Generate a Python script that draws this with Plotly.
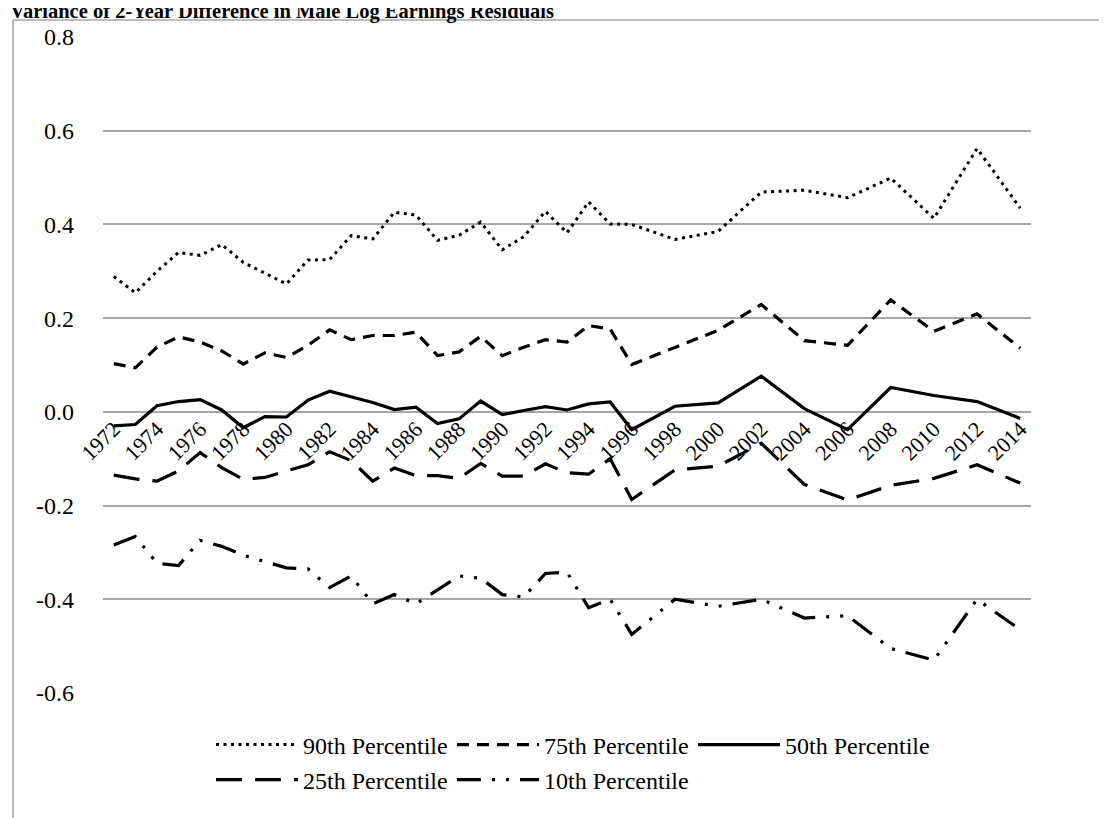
import plotly.graph_objects as go

years = list(range(1972, 1997)) + list(range(1998, 2015, 2))

p90 = [0.289, 0.254, 0.300, 0.340, 0.334, 0.357, 0.319, 0.296, 0.273, 0.324,
       0.325, 0.376, 0.369, 0.426, 0.420, 0.366, 0.377, 0.405, 0.346, 0.374,
       0.428, 0.382, 0.448, 0.401, 0.400,
       0.368, 0.385, 0.469, 0.473, 0.457, 0.499, 0.413, 0.562, 0.435]
p75 = [0.103, 0.094, 0.138, 0.160, 0.149, 0.130, 0.102, 0.126, 0.116, 0.142,
       0.175, 0.154, 0.163, 0.163, 0.170, 0.120, 0.128, 0.161, 0.120, 0.138,
       0.154, 0.149, 0.184, 0.177, 0.101,
       0.138, 0.174, 0.229, 0.152, 0.142, 0.239, 0.172, 0.209, 0.136]
p50 = [-0.030, -0.027, 0.013, 0.022, 0.026, 0.004, -0.034, -0.010, -0.011, 0.025,
       0.044, 0.032, 0.020, 0.005, 0.010, -0.025, -0.015, 0.023, -0.006, 0.003,
       0.011, 0.004, 0.017, 0.021, -0.038,
       0.012, 0.019, 0.076, 0.007, -0.038, 0.052, 0.035, 0.022, -0.014]
p25 = [-0.135, -0.143, -0.148, -0.126, -0.087, -0.119, -0.144, -0.140, -0.126, -0.113,
       -0.085, -0.104, -0.148, -0.120, -0.136, -0.136, -0.142, -0.110, -0.137, -0.137,
       -0.111, -0.130, -0.133, -0.100, -0.187,
       -0.124, -0.116, -0.067, -0.155, -0.188, -0.157, -0.142, -0.113, -0.152]
p10 = [-0.284, -0.266, -0.323, -0.328, -0.274, -0.287, -0.306, -0.319, -0.333, -0.335,
       -0.375, -0.350, -0.410, -0.390, -0.410, -0.380, -0.350, -0.355, -0.390, -0.395,
       -0.345, -0.342, -0.418, -0.400, -0.475,
       -0.400, -0.415, -0.400, -0.440, -0.435, -0.505, -0.530, -0.400, -0.465]

series_names = ["90th Percentile", "75th Percentile", "50th Percentile",
                "25th Percentile", "10th Percentile"]

x_tick_vals = list(range(1972, 2015, 2))
x_tick_text = [str(v) for v in x_tick_vals]
y_tick_vals = [-0.6, -0.4, -0.2, 0.0, 0.2, 0.4, 0.6, 0.8]
y_tick_text = ["-0.6", "-0.4", "-0.2", "0.0", "0.2", "0.4", "0.6", "0.8"]

title_text = "Variance of 2-Year Difference in Male Log Earnings Residuals"

FONT = "Liberation Serif, Times New Roman, serif"

styles = [
    dict(dash="3px,4.5px", width=3),
    dict(dash="12px,8px", width=3.2),
    dict(dash="solid", width=3.2),
    dict(dash="26px,13px", width=3.2),
    dict(dash="24px,11px,3px,11px,3px,11px", width=3.2),
]
legends = ["legend", "legend", "legend", "legend2", "legend2"]

fig = go.Figure()
for name, vals, st, lg in zip(series_names, [p90, p75, p50, p25, p10], styles, legends):
    fig.add_trace(go.Scatter(
        x=years, y=vals, name=name, mode="lines",
        line=dict(color="black", width=st["width"], dash=st["dash"]),
        legend=lg, hoverinfo="skip"))

W, H = 1107, 818
L, R, T, B = 95, 84, 29, 133
pw = W - L - R
ph = H - T - B

def px_x(p):
    return (p - L) / pw

def px_y(p):
    return 1 - (p - T) / ph

ymin, ymax = -0.6, 0.8

leg_common = dict(orientation="h", xanchor="left", yanchor="middle",
                  font=dict(family=FONT, size=24, color="black"),
                  bgcolor="rgba(0,0,0,0)", entrywidth=144,
                  entrywidthmode="pixels", itemwidth=82)

fig.update_layout(
    width=W, height=H,
    margin=dict(l=L, r=R, t=T, b=B),
    paper_bgcolor="white", plot_bgcolor="white",
    font=dict(family=FONT, size=24, color="black"),
    xaxis=dict(range=[1971.5, 2014.5], tickvals=x_tick_vals, ticktext=x_tick_text,
               tickangle=-45, anchor="free", position=(0 - ymin) / (ymax - ymin),
               showgrid=False, zeroline=False, showline=False, ticks="",
               ticklabelstandoff=-1,
               tickfont=dict(family=FONT, size=22, color="black"), automargin=False),
    yaxis=dict(range=[ymin, ymax], tickvals=y_tick_vals, ticktext=y_tick_text,
               showgrid=True, gridcolor="#a6a6a6", gridwidth=1.5, zeroline=False,
               showline=False, ticks="", ticklabelstandoff=28,
               tickfont=dict(family=FONT, size=24, color="black"), automargin=False),
    legend=dict(x=px_x(203), y=px_y(737), **leg_common),
    legend2=dict(x=px_x(203), y=px_y(772), **leg_common),
    showlegend=True,
    shapes=[
        dict(type="line", xref="paper", yref="paper", x0=px_x(5), x1=px_x(1200),
             y0=px_y(12), y1=px_y(12), line=dict(color="#a6a6a6", width=1.5)),
        dict(type="line", xref="paper", yref="paper", x0=px_x(5), x1=px_x(5),
             y0=px_y(900), y1=px_y(12), line=dict(color="#a6a6a6", width=1.5)),
    ],
    annotations=[
        dict(text="<b>" + title_text + "</b>", xref="paper", yref="paper",
             x=px_x(0), y=px_y(17), xanchor="left", yanchor="bottom", showarrow=False,
             font=dict(family=FONT, size=20.5, color="black")),
    ],
)

fig.write_html("out.html")
